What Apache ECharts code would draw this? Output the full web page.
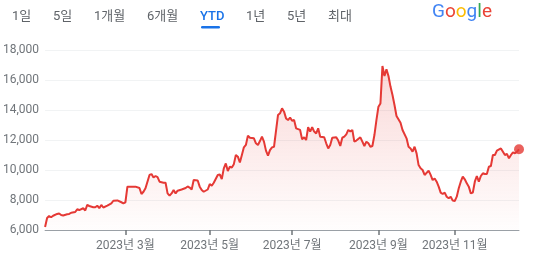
<!DOCTYPE html>
<html lang="ko">
<head>
  <meta charset="UTF-8">
  <title>YTD 주가</title>
  <style>
    body { margin: 0; background: #fff; }
    #chart { width: 539px; height: 260px; }
  </style>
  <script src="https://cdn.jsdelivr.net/npm/echarts@6/dist/echarts.min.js"></script>
</head>
<body>
  <div id="chart"></div>
  <script>
    // 거래일 번호 (2023-01-02 = 0) 와 종가
    const days = [
      0, 1, 2, 3, 4, 6, 7, 8, 9, 11, 12, 13, 15, 16, 17, 19, 20, 21, 22, 24,
      25, 26, 27, 28, 29, 31, 33, 34, 36, 38, 39, 40, 41, 43, 45, 47, 48, 49, 50, 52,
      53, 54, 55, 56, 57, 59, 60, 61, 62, 63, 64, 65, 66, 68, 70, 71, 72, 73, 74, 76,
      77, 78, 79, 81, 82, 83, 84, 86, 87, 88, 89, 90, 91, 92, 93, 94, 95, 96, 97, 98,
      99, 100, 101, 102, 104, 105, 106, 107, 108, 109, 110, 111, 112, 113,
      114, 116, 117, 118, 119, 120, 121, 122, 123, 124, 125, 127, 128, 129, 130, 131,
      132, 133, 134, 135, 136, 137, 139, 140, 141, 142, 143, 145, 146, 147, 148, 149,
      150, 151, 152, 153, 154, 155, 157, 158, 159, 160, 161, 162, 163, 164, 165, 166,
      167, 168, 169, 170, 171, 172, 173, 174, 175, 177, 178, 180, 181, 182, 183, 184,
      185, 186, 187, 188, 189, 191, 192, 193, 194, 195, 196, 197, 198, 199, 200, 201,
      202, 203, 204, 205, 206, 207, 208, 209, 210, 211, 212, 213, 214, 215, 216, 217,
      218, 219, 220, 221, 222, 223, 224, 225, 227, 228, 229, 230, 231, 232, 233, 234,
      235, 236
    ];
    const prices = [
      6200, 6800, 6930, 6850, 6950, 7070, 7100, 7000, 6970, 7050, 7070, 7150, 7200, 7380, 7330, 7450, 7300, 7670, 7600, 7520,
      7520, 7620, 7450, 7670, 7500, 7620, 7780, 7950, 7970, 7850, 7780, 7850, 8890, 8890, 8890, 8800, 8400, 8550, 8780, 9670,
      9730, 9500, 9600, 9520, 9220, 9150, 9150, 8440, 8290, 8440, 8670, 8440, 8620, 8700, 8800, 8900, 8830, 8700, 9330, 9300,
      8890, 8670, 8550, 8700, 9060, 8950, 9150, 9670, 9700, 9400, 10110, 10440, 9930, 10220, 10170, 10390, 11000, 10890, 10500, 11000,
      11510, 11670, 12290, 12150, 12110, 11780, 11670, 11930, 12220, 11890, 11290, 10960, 11330, 11510,
      11550, 13670, 13780, 14110, 13890, 13440, 13330, 13500, 13280, 13330, 12780, 12670, 12040, 12180, 12000, 12850,
      12560, 12850, 12560, 12440, 12780, 12220, 12180, 11780, 11440, 11670, 12150, 12180, 11960, 11600, 12150, 12220,
      12370, 12670, 12560, 12670, 11890, 11960, 12180, 11890, 11600, 11890, 11780, 11550, 11600, 12330, 13330, 14220,
      14440, 16930, 16270, 16710, 16270, 15560, 15000, 14330, 13600, 13150, 12670, 12110, 11550, 11440, 11220, 11550,
      11110, 10330, 10110, 10000, 9670, 9960, 9670, 9330, 9440, 9220, 8890, 8490, 8400, 8490, 8220, 8110,
      8220, 7960, 7930, 8220, 8780, 9220, 9560, 9380, 9110, 8890, 8440, 8490, 9220, 9600, 9220, 9600,
      9780, 9730, 9730, 10220, 10270, 11000, 11000, 11290, 11440, 11220, 11000, 11070, 10780, 11000, 11180, 11110,
      11220, 11380
    ];
    // 월 눈금 (각 월 첫 거래일)
    const monthTickDays = [40, 82, 123, 166, 204];
    const monthLabels = ['2023년 3월', '2023년 5월', '2023년 7월', '2023년 9월', '2023년 11월'];
    const tabs = ['1일', '5일', '1개월', '6개월', 'YTD', '1년', '5년', '최대'];
    const tabX = [12, 53, 94, 147, 200, 246, 287, 328];

    const FONT = 'Roboto, "Noto Sans CJK KR", sans-serif';
    const RED = '#e53935';

    const lineData = days.map((d, i) => [d, prices[i]]);
    const last = lineData[lineData.length - 1];

    const graphics = tabs.map((t, i) => ({
      type: 'text',
      left: tabX[i],
      top: 10,
      style: {
        text: t,
        font: (t === 'YTD' ? '500 ' : '') + '13px ' + FONT,
        fill: t === 'YTD' ? '#1a73e8' : '#5f6368'
      }
    }));
    graphics.push({
      type: 'rect',
      left: 201,
      top: 26,
      shape: { width: 19, height: 2.5, r: 1.5 },
      style: { fill: '#1a73e8' }
    });
    graphics.push({
      type: 'text',
      left: 432,
      top: 3,
      style: {
        text: '{b|G}{r|o}{y|o}{b|g}{g|l}{r|e}',
        rich: {
          b: { fill: '#4285f4', fontSize: 19, fontFamily: 'Roboto' },
          r: { fill: '#ea4335', fontSize: 19, fontFamily: 'Roboto' },
          y: { fill: '#fbbc05', fontSize: 19, fontFamily: 'Roboto' },
          g: { fill: '#34a853', fontSize: 19, fontFamily: 'Roboto' }
        }
      }
    });

    const chart = echarts.init(document.getElementById('chart'));
    chart.setOption({
      animation: false,
      grid: { left: 42, right: 20, top: 50, bottom: 30 },
      graphic: graphics,
      xAxis: {
        type: 'value',
        min: 0,
        max: 236,
        splitLine: { show: false },
        axisLine: { lineStyle: { color: '#9aa0a6', width: 1 } },
        axisTick: { customValues: monthTickDays, length: 5, lineStyle: { color: '#70757a', width: 1.5 } },
        axisLabel: {
          customValues: monthTickDays,
          color: '#70757a',
          fontSize: 12,
          fontFamily: FONT,
          margin: 10,
          formatter: v => monthLabels[monthTickDays.indexOf(v)] || ''
        }
      },
      yAxis: {
        type: 'value',
        min: 6000,
        max: 18000,
        interval: 2000,
        axisLine: { show: false },
        axisTick: { show: false },
        splitLine: { lineStyle: { color: '#f1f3f4' } },
        axisLabel: {
          color: '#70757a',
          fontSize: 12,
          fontFamily: FONT,
          margin: 6,
          formatter: v => v.toLocaleString('en-US')
        }
      },
      series: [
        {
          type: 'line',
          data: lineData,
          showSymbol: false,
          lineStyle: { color: RED, width: 2 },
          areaStyle: {
            color: new echarts.graphic.LinearGradient(0, 0, 0, 1, [
              { offset: 0, color: 'rgba(229,57,53,0.28)' },
              { offset: 1, color: 'rgba(229,57,53,0.01)' }
            ])
          }
        },
        {
          type: 'scatter',
          data: [last],
          symbolSize: 10,
          itemStyle: { color: RED }
        }
      ]
    });
  </script>
</body>
</html>
